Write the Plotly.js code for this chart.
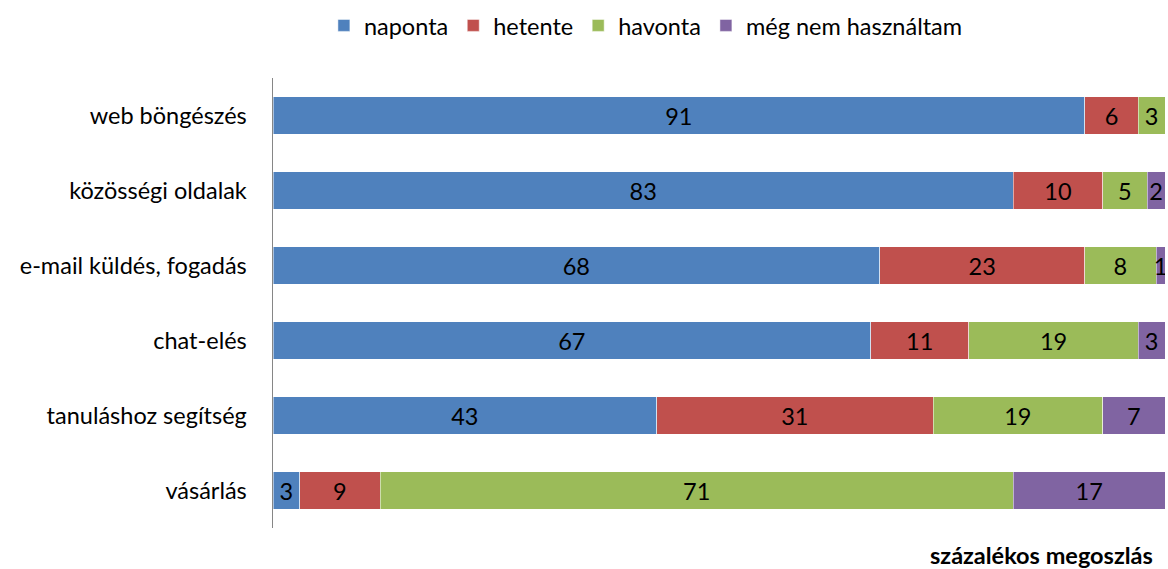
<!DOCTYPE html>
<html><head><meta charset="utf-8">
<script src="https://cdn.plot.ly/plotly-3.0.1.min.js"></script>
<style>body{margin:0;background:#fff}#chart{width:1168px;height:569px}</style>
</head><body><div id="chart"></div>
<script>
const categories = ["web böngészés","közösségi oldalak","e-mail küldés, fogadás","chat-elés","tanuláshoz segítség","vásárlás"];
const seriesNames = ["naponta","hetente","havonta","még nem használtam"];
const naponta = [91,83,68,67,43,3];
const hetente = [6,10,23,11,31,9];
const havonta = [3,5,8,19,19,71];
const megNem = [0,2,1,3,7,17];
const colors = ["#4F81BD","#C0504D","#9BBB59","#8064A2"];
const FONT = "Lato, 'Open Sans', sans-serif";
const FS = 23.5;

const series = [naponta, hetente, havonta, megNem];
const traces = series.map((vals, i) => ({
  type: 'bar', orientation: 'h', name: seriesNames[i],
  y: categories, x: vals,
  text: vals.map(v => v > 0 ? String(v) : ''),
  textposition: 'inside', insidetextanchor: 'middle', constraintext: 'none',
  textfont: {family: FONT, size: FS, color: '#000'},
  marker: {color: colors[i], line: {color: 'rgba(255,255,255,0.5)', width: 1}},
  hoverinfo: 'none'
}));

const layout = {
  width: 1168, height: 569,
  margin: {l: 273, r: 3, t: 78, b: 41},
  barmode: 'stack', bargap: 0.5,
  paper_bgcolor: '#fff', plot_bgcolor: '#fff',
  font: {family: FONT, size: FS, color: '#000'},
  showlegend: true,
  legend: {orientation: 'h', xref: 'container', yref: 'container', x: 0.553, xanchor: 'center', y: 0.955, yanchor: 'middle',
           font: {family: FONT, size: FS, color: '#000'}, itemwidth: 30, traceorder: 'normal'},
  xaxis: {range: [0, 100], showticklabels: false, ticks: '', showgrid: false, zeroline: false, showline: false, fixedrange: true},
  yaxis: {autorange: 'reversed', type: 'category', showline: true, linecolor: '#868686', linewidth: 1.5,
          ticks: '', showgrid: false, ticklabelstandoff: 20, tickfont: {family: FONT, size: FS, color: '#000'}},
  annotations: [{text: '<b>százalékos megoszlás</b>', xref: 'paper', yref: 'paper', x: 1, y: 0, xanchor: 'right', yanchor: 'middle',
                 xshift: -10, yshift: -27, showarrow: false, font: {family: FONT, size: FS, color: '#000'}}]
};
Plotly.newPlot('chart', traces, layout, {displayModeBar: false, staticPlot: true});
</script></body></html>
